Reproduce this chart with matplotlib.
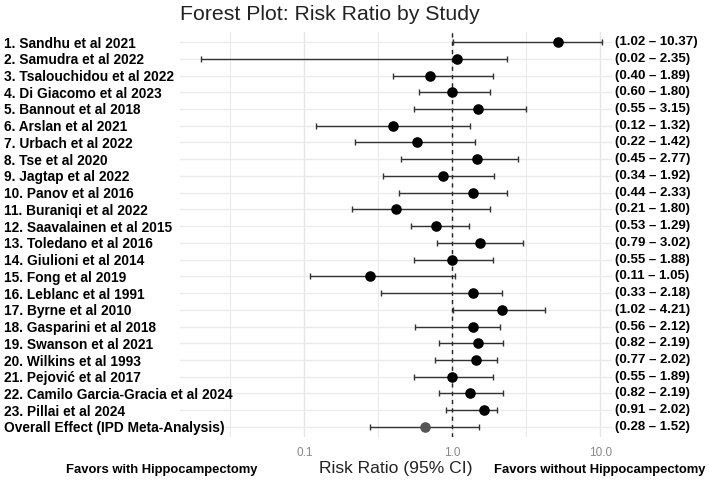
import numpy as np
import matplotlib
matplotlib.use("Agg")
import matplotlib.pyplot as plt
import matplotlib.transforms as mtransforms

plt.rcParams["font.family"] = ["Liberation Sans", "DejaVu Sans"]

# study labels, point estimates and 95% CI bounds
studies = [
    "1. Sandhu et al 2021", "2. Samudra et al 2022", "3. Tsalouchidou et al 2022",
    "4. Di Giacomo et al 2023", "5. Bannout et al 2018", "6. Arslan et al 2021",
    "7. Urbach et al 2022", "8. Tse et al 2020", "9. Jagtap et al 2022",
    "10. Panov et al 2016", "11. Buraniqi et al 2022", "12. Saavalainen et al 2015",
    "13. Toledano et al 2016", "14. Giulioni et al 2014", "15. Fong et al 2019",
    "16. Leblanc et al 1991", "17. Byrne et al 2010", "18. Gasparini et al 2018",
    "19. Swanson et al 2021", "20. Wilkins et al 1993", "21. Pejović et al 2017",
    "22. Camilo Garcia-Gracia et al 2024", "23. Pillai et al 2024",
    "Overall Effect (IPD Meta-Analysis)",
]
rr = [5.18, 1.08, 0.71, 1.00, 1.49, 0.40, 0.58, 1.48, 0.87, 1.38, 0.42, 0.78,
      1.54, 1.00, 0.28, 1.39, 2.17, 1.39, 1.49, 1.44, 1.00, 1.31, 1.65, 0.65]
lower = [1.02, 0.02, 0.40, 0.60, 0.55, 0.12, 0.22, 0.45, 0.34, 0.44, 0.21, 0.53,
         0.79, 0.55, 0.11, 0.33, 1.02, 0.56, 0.82, 0.77, 0.55, 0.82, 0.91, 0.28]
upper = [10.37, 2.35, 1.89, 1.80, 3.15, 1.32, 1.42, 2.77, 1.92, 2.33, 1.80, 1.29,
         3.02, 1.88, 1.05, 2.18, 4.21, 2.12, 2.19, 2.02, 1.89, 2.19, 2.02, 1.52]
xticks = [0.1, 1.0, 10.0]
xticklabels = ["0.1", "1.0", "10.0"]

W, H = 709, 484
fig = plt.figure(figsize=(W / 100, H / 100), dpi=100)
ax = fig.add_axes([180 / W, 47 / H, 432 / W, 405 / H])

n = len(studies)
rows = np.arange(1, n + 1)
rr = np.array(rr)
lower = np.array(lower)
upper = np.array(upper)

ax.set_xscale("log")
ax.set_xlim(10 ** -1.84, 10 ** 1.08)
ax.set_ylim(n + 0.6, 0.4)

# grid (ggplot minimal look)
for v in [10 ** -1.5, 10 ** -0.5, 10 ** 0.5]:
    ax.axvline(v, color="#EBEBEB", lw=0.8, zorder=0)
for v in xticks:
    ax.axvline(v, color="#E6E6E6", lw=1.0, zorder=0)
for r in rows:
    ax.axhline(r, color="#EBEBEB", lw=1.0, zorder=0)

ax.axvline(1.0, color="#222222", lw=1.0, ls=(0, (3, 3)), zorder=1)

for i in range(n):
    col = "#555555" if i == n - 1 else "black"
    ax.errorbar(rr[i], rows[i], xerr=[[rr[i] - lower[i]], [upper[i] - rr[i]]],
                fmt="none", ecolor="#333333", elinewidth=1.0, capsize=2.2,
                capthick=1.0, zorder=2)
    ax.plot(rr[i], rows[i], "o", color=col, markersize=6.6, zorder=3)

for s in ax.spines.values():
    s.set_visible(False)

ax.set_xticks(xticks)
ax.set_xticklabels(xticklabels)
ax.xaxis.set_minor_locator(matplotlib.ticker.NullLocator())
ax.tick_params(axis="x", length=0, pad=7, labelsize=8.5, labelcolor="#888888")

ax.set_yticks(rows)
ax.set_yticklabels(studies, ha="left", fontweight="bold", fontsize=9.9)
ax.tick_params(axis="y", length=0, pad=127)

ax.set_xlabel("Risk Ratio (95% CI)", fontsize=12.6, color="#222222", labelpad=2)

# CI labels to the right of the panel
trans = mtransforms.blended_transform_factory(fig.transFigure, ax.transData)
for i in range(n):
    ax.text(615 / W, rows[i], f"({lower[i]:.2f} – {upper[i]:.2f})", transform=trans,
            ha="left", va="center", fontsize=9.5, fontweight="bold", clip_on=False)

fig.text(180 / W, 1 - 14 / H, "Forest Plot: Risk Ratio by Study", ha="left", va="center",
         fontsize=15.3, color="#222222")
fig.text(162 / W, 1 - 470 / H, "Favors with Hippocampectomy", ha="center", va="center",
         fontsize=9.4, fontweight="bold")
fig.text(600 / W, 1 - 470 / H, "Favors without Hippocampectomy", ha="center", va="center",
         fontsize=9.4, fontweight="bold")

fig.savefig("out.png", dpi=100)
